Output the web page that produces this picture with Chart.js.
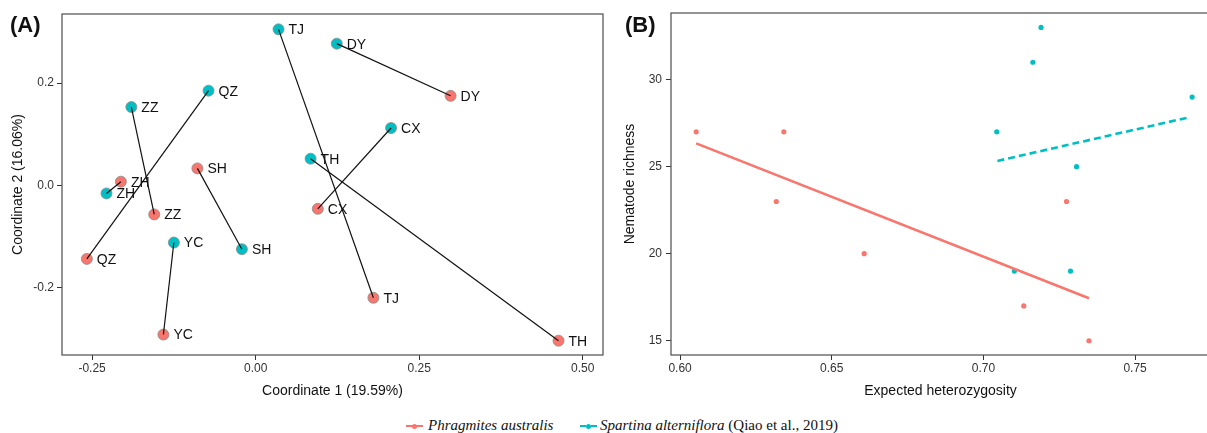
<!DOCTYPE html>
<html>
<head>
<meta charset="utf-8">
<script src="https://cdn.jsdelivr.net/npm/chart.js@4.4.1/dist/chart.umd.min.js"></script>
<style>
html,body{margin:0;padding:0;background:#fff;}
#page{position:relative;width:1207px;height:433px;overflow:hidden;font-family:"Liberation Sans",Arial,sans-serif;}
.box{position:absolute;top:0;height:405px;}
.tag{position:absolute;top:12px;font:bold 22px "Liberation Sans",Arial,sans-serif;color:#111;}
.leg{position:absolute;top:417px;height:17px;line-height:17px;font:italic 15px "Liberation Serif","Times New Roman",serif;color:#111;white-space:nowrap;}
.leg span{font-style:normal;}
.key{position:absolute;top:425px;width:17px;height:0;}
.key i{position:absolute;left:6px;top:-3px;width:5px;height:5px;border-radius:50%;}
</style>
</head>
<body>
<div id="page">
  <div class="box" style="left:0;width:610px;"><canvas id="chartA"></canvas></div>
  <div class="box" style="left:605px;width:610px;"><canvas id="chartB"></canvas></div>
  <div class="tag" style="left:10px;">(A)</div>
  <div class="tag" style="left:625px;">(B)</div>
  <div class="key" style="left:406px;border-top:2.5px solid #F8766D;"><i style="background:#F8766D"></i></div>
  <div class="leg" style="left:428px;">Phragmites australis</div>
  <div class="key" style="left:580px;border-top:2.5px dashed #00BFC4;"><i style="background:#00BFC4"></i></div>
  <div class="leg" style="left:600px;">Spartina alterniflora<span> (Qiao et al., 2019)</span></div>
</div>
<script>
// ---- panel A: procrustes ordination (coordinate 1 / coordinate 2)
var sites = ['TJ','DY','QZ','ZZ','CX','TH','ZH','YC','SH'];
// Spartina alterniflora (cyan)
var saX = [0.035, 0.124, -0.072, -0.190, 0.207, 0.084, -0.228, -0.125, -0.021];
var saY = [0.305, 0.277, 0.185, 0.153, 0.112, 0.052, -0.016, -0.112, -0.125];
// Phragmites australis (red)
var paX = [0.180, 0.298, -0.258, -0.155, 0.095, 0.463, -0.206, -0.141, -0.089];
var paY = [-0.220, 0.175, -0.144, -0.057, -0.046, -0.304, 0.007, -0.292, 0.033];
var ticksAx = [-0.25, 0, 0.25, 0.5];
var ticksAy = [-0.2, 0, 0.2];

// ---- panel B: expected heterozygosity vs nematode richness
var paHe = [0.6053, 0.6317, 0.6342, 0.6607, 0.7133, 0.7274, 0.7348];
var paRich = [27, 23, 27, 20, 17, 23, 15];
var saHe = [0.7044, 0.7102, 0.7163, 0.7190, 0.7287, 0.7307, 0.7688];
var saRich = [27, 19, 31, 33, 19, 25, 29];
// fitted lines (end points)
var paFitHe = [0.6053, 0.7348];
var paFitRich = [26.34, 17.44];
var saFitHe = [0.7046, 0.7679];
var saFitRich = [25.33, 27.84];
var ticksBx = [0.60, 0.65, 0.70, 0.75];
var ticksBy = [15, 20, 25, 30];

var RED = '#F8766D', CYAN = '#00BFC4';
var FONT = '"Liberation Sans", Arial, sans-serif';

function pts(xs, ys){ return xs.map(function(x,i){ return {x:x, y:ys[i]}; }); }

// frame round the plot area
var frame = {
  id:'frame',
  afterDraw:function(c){
    var a=c.chartArea, ctx=c.ctx;
    ctx.save();
    ctx.strokeStyle='#4d4d4d'; ctx.lineWidth=1.2;
    ctx.strokeRect(a.left, a.top, a.right-a.left, a.bottom-a.top);
    ctx.restore();
  }
};

// site names next to the ordination points
var siteNames = {
  id:'siteNames',
  afterDatasetsDraw:function(c){
    var ctx=c.ctx, sx=c.scales.x, sy=c.scales.y;
    ctx.save();
    ctx.font='14px '+FONT; ctx.fillStyle='#111';
    ctx.textBaseline='middle'; ctx.textAlign='left';
    sites.forEach(function(s,i){
      ctx.fillText(s, sx.getPixelForValue(saX[i])+10, sy.getPixelForValue(saY[i])+1);
      ctx.fillText(s, sx.getPixelForValue(paX[i])+10, sy.getPixelForValue(paY[i])+1);
    });
    ctx.restore();
  }
};

function axis(opt){
  return {
    type:'linear', min:opt.min, max:opt.max,
    afterBuildTicks:function(s){ s.ticks = opt.ticks.map(function(v){ return {value:v}; }); },
    afterFit:function(s){ if(opt.w) s.width=opt.w; if(opt.h) s.height=opt.h; },
    grid:{drawOnChartArea:false, drawTicks:true, tickLength:5, color:'#333'},
    border:{display:false},
    ticks:{color:'#333', font:{family:FONT, size:12}, padding:opt.tp, maxRotation:0,
      callback:function(v){ return opt.fmt(v); }},
    title:{display:true, text:opt.title, color:'#111', font:{family:FONT, size:14}, padding:opt.pad}
  };
}

var linesA = sites.map(function(s,i){
  return {type:'line', data:[{x:saX[i], y:saY[i]}, {x:paX[i], y:paY[i]}],
    borderColor:'#111', borderWidth:1.2, pointRadius:0, fill:false, order:0};
});

new Chart(document.getElementById('chartA'), {
  type:'scatter',
  data:{datasets: linesA.concat([
    {data:pts(saX,saY), backgroundColor:CYAN, borderColor:'#8a8a8a', borderWidth:0.8, pointRadius:5.5, order:1},
    {data:pts(paX,paY), backgroundColor:RED, borderColor:'#8a8a8a', borderWidth:0.8, pointRadius:5.5, order:1}
  ])},
  options:{
    responsive:true, maintainAspectRatio:false, animation:false,
    layout:{padding:{top:14, right:7, left:0, bottom:0}},
    plugins:{legend:{display:false}, tooltip:{enabled:false}},
    scales:{
      x:axis({min:-0.296, max:0.531, ticks:ticksAx, h:50, tp:1, title:'Coordinate 1 (19.59%)', pad:{top:0,bottom:5},
        fmt:function(v){ return v.toFixed(2); }}),
      y:axis({min:-0.332, max:0.335, ticks:ticksAy, w:62, tp:3, title:'Coordinate 2 (16.06%)', pad:{top:10,bottom:0},
        fmt:function(v){ return v.toFixed(1); }})
    }
  },
  plugins:[frame, siteNames]
});

new Chart(document.getElementById('chartB'), {
  type:'scatter',
  data:{datasets:[
    {type:'line', data:pts(paFitHe,paFitRich), borderColor:RED, borderWidth:2.6, pointRadius:0, fill:false},
    {type:'line', data:pts(saFitHe,saFitRich), borderColor:CYAN, borderWidth:2.6, borderDash:[7,4], pointRadius:0, fill:false},
    {data:pts(paHe,paRich), backgroundColor:RED, borderWidth:0, pointRadius:2.6},
    {data:pts(saHe,saRich), backgroundColor:CYAN, borderWidth:0, pointRadius:2.6}
  ]},
  options:{
    responsive:true, maintainAspectRatio:false, animation:false,
    layout:{padding:{top:13, right:5, left:0, bottom:0}},
    plugins:{legend:{display:false}, tooltip:{enabled:false}},
    scales:{
      x:axis({min:0.597, max:0.7747, ticks:ticksBx, h:50, tp:1, title:'Expected heterozygosity', pad:{top:0,bottom:5},
        fmt:function(v){ return v.toFixed(2); }}),
      y:axis({min:14.18, max:33.83, ticks:ticksBy, w:66, tp:4, title:'Nematode richness', pad:{top:17,bottom:0},
        fmt:function(v){ return String(Math.round(v)); }})
    }
  },
  plugins:[frame]
});
</script>
</body>
</html>
